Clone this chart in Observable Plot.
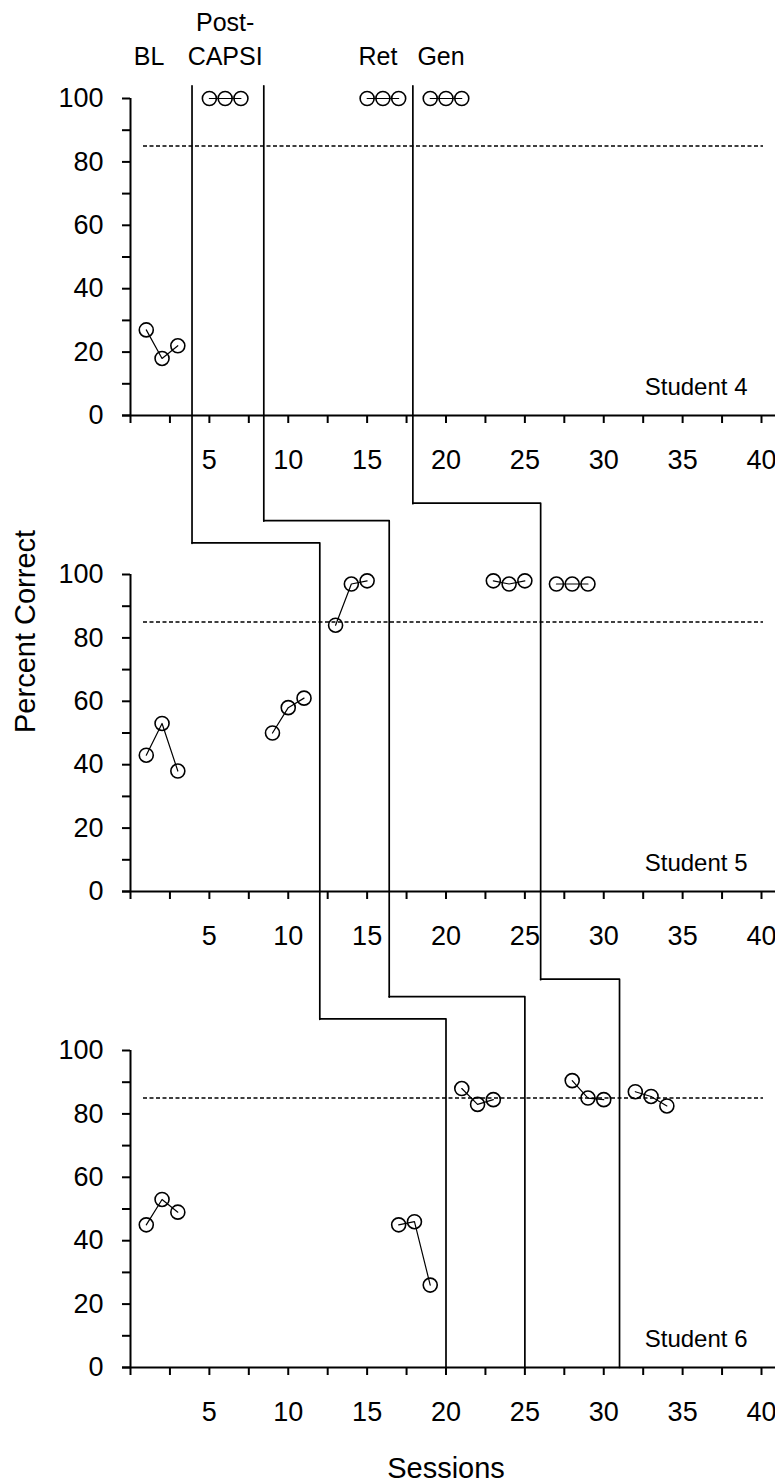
<!DOCTYPE html>
<html><head><meta charset="utf-8">
<script src="https://cdn.jsdelivr.net/npm/d3@7"></script>
<script src="https://cdn.jsdelivr.net/npm/@observablehq/plot@0.6"></script>
<style>
html,body{margin:0;padding:0;background:#fff;}
#chart svg{display:block;overflow:visible;}
</style></head><body><div id="chart"></div>
<script>
// ---- data ----
const students = ["Student 4", "Student 5", "Student 6"];
const phaseNames = ["BL", "Post-\nCAPSI", "Ret", "Gen"];

const s4Sessions = [1, 2, 3, 5, 6, 7, 15, 16, 17, 19, 20, 21];
const s4Values   = [27, 18, 22, 100, 100, 100, 100, 100, 100, 100, 100, 100];
const s4Phase    = [0, 0, 0, 1, 1, 1, 2, 2, 2, 3, 3, 3];
const s4Run      = [1, 1, 1, 2, 2, 2, 3, 3, 3, 4, 4, 4];

const s5Sessions = [1, 2, 3, 9, 10, 11, 13, 14, 15, 23, 24, 25, 27, 28, 29];
const s5Values   = [43, 53, 38, 50, 58, 61, 84, 97, 98, 98, 97, 98, 97, 97, 97];
const s5Phase    = [0, 0, 0, 0, 0, 0, 1, 1, 1, 2, 2, 2, 3, 3, 3];
const s5Run      = [1, 1, 1, 2, 2, 2, 3, 3, 3, 4, 4, 4, 5, 5, 5];

const s6Sessions = [1, 2, 3, 17, 18, 19, 21, 22, 23, 28, 29, 30, 32, 33, 34];
const s6Values   = [45, 53, 49, 45, 46, 26, 88, 83, 84.5, 90.5, 85, 84.5, 87, 85.5, 82.5];
const s6Phase    = [0, 0, 0, 0, 0, 0, 1, 1, 1, 2, 2, 2, 3, 3, 3];
const s6Run      = [1, 1, 1, 2, 2, 2, 3, 3, 3, 4, 4, 4, 5, 5, 5];

// phase-change lines (session position) per student: BL|Post, Post|Ret, Ret|Gen
const phaseChanges4 = [3.9, 8.45, 17.9];
const phaseChanges5 = [12, 16.4, 26];
const phaseChanges6 = [20, 25, 31];

const criterion = 85;
const xTicks = [0, 2.5, 5, 7.5, 10, 12.5, 15, 17.5, 20, 22.5, 25, 27.5, 30, 32.5, 35, 37.5, 40];
const xTickLabels = [5, 10, 15, 20, 25, 30, 35, 40];
const yTicks = [0, 10, 20, 30, 40, 50, 60, 70, 80, 90, 100];
const yTickLabels = [0, 20, 40, 60, 80, 100];

// ---- build tables ----
const series = [
  [s4Sessions, s4Values, s4Phase, s4Run],
  [s5Sessions, s5Values, s5Phase, s5Run],
  [s6Sessions, s6Values, s6Phase, s6Run]
];
const points = [];
series.forEach(([ss, vv, pp, rr], i) => {
  ss.forEach((s, k) => points.push({student: students[i], session: s, value: vv[k], phase: pp[k], key: students[i] + "-" + rr[k]}));
});

const fyPad = 0.3347;
const pitch = 100 / (1 - fyPad);        // distance between panels in y units
const lineTop = 104;                     // top of the first-panel phase lines
const levels = [110, 117, 122.5];        // height of the step connectors
const changes = [phaseChanges4, phaseChanges5, phaseChanges6];
const phaseLines = [];
for (let j = 0; j < 3; j++) {
  for (let i = 0; i < 3; i++) {
    const key = j + "-" + i;
    const st = students[i];
    if (i === 0) phaseLines.push({student: st, key, x: changes[0][j], y: lineTop});
    else {
      phaseLines.push({student: st, key, x: changes[i - 1][j], y: levels[j]});
      phaseLines.push({student: st, key, x: changes[i][j], y: levels[j]});
    }
    phaseLines.push({student: st, key, x: changes[i][j], y: i === 2 ? 0 : levels[j] - pitch});
  }
}

// phase labels above Student 4, centred on that phase's sessions
const labelShift = [-13, 0, -5, -5];
const phaseLabelMarks = phaseNames.map((name, p) => {
  const xs = points.filter(d => d.student === students[0] && d.phase === p).map(d => d.session);
  return Plot.text([name], {
    x: () => d3.mean(xs), y: () => 100, fy: () => students[0], text: d => d,
    dx: labelShift[p], dy: -34, lineAnchor: "bottom", lineHeight: 1.36,
    fontSize: 25, fill: "black"
  });
});

const chart = Plot.plot({
  width: 775,
  height: 1483,
  marginTop: 97,
  marginBottom: 116,
  marginLeft: 130,
  marginRight: 14,
  style: {fontFamily: "'Liberation Sans', Arial, sans-serif", fontSize: "27px", color: "black", background: "white", overflow: "visible"},
  x: {domain: [0, 40]},
  y: {domain: [0, 100]},
  fy: {domain: students, paddingInner: fyPad, paddingOuter: 0, axis: null},
  marks: [
    Plot.axisY({ticks: yTicks, tickFormat: d => yTickLabels.includes(d) ? d : "", tickSize: 8, tickPadding: 19, strokeWidth: 2, label: null}),
    Plot.axisX({ticks: xTicks, tickFormat: d => xTickLabels.includes(d) ? d : "", tickSize: 8, tickPadding: 26, strokeWidth: 2, label: null, facetAnchor: null}),
    Plot.ruleX([0], {y1: 0, y2: 100, stroke: "black", strokeWidth: 2}),
    Plot.ruleY([0], {stroke: "black", strokeWidth: 2, insetLeft: -8, insetRight: -14}),
    Plot.ruleY([criterion], {stroke: "black", strokeWidth: 1.6, strokeDasharray: "4,2.5", insetLeft: 13, insetRight: -2}),
    Plot.line(phaseLines, {x: "x", y: "y", z: "key", fy: "student", stroke: "black", strokeWidth: 1.7}),
    Plot.line(points, {x: "session", y: "value", z: "key", fy: "student", stroke: "black", strokeWidth: 1.2}),
    Plot.dot(points, {x: "session", y: "value", fy: "student", r: 7, stroke: "black", strokeWidth: 1.6, fill: "none"}),
    Plot.text(students, {fy: d => d, text: d => d, frameAnchor: "bottom-right", textAnchor: "end", lineAnchor: "bottom", dx: -14, dy: -21, fontSize: 24, fill: "black"}),
    Plot.text(["Percent Correct"], {fy: () => students[1], text: d => d, frameAnchor: "left", rotate: -90, dx: -105, fontSize: 29, fill: "black"}),
    Plot.text(["Sessions"], {fy: () => students[2], text: d => d, frameAnchor: "bottom", lineAnchor: "bottom", dy: 110, fontSize: 29, fill: "black"}),
    ...phaseLabelMarks
  ]
});
document.getElementById("chart").appendChild(chart);
</script>
</body></html>
